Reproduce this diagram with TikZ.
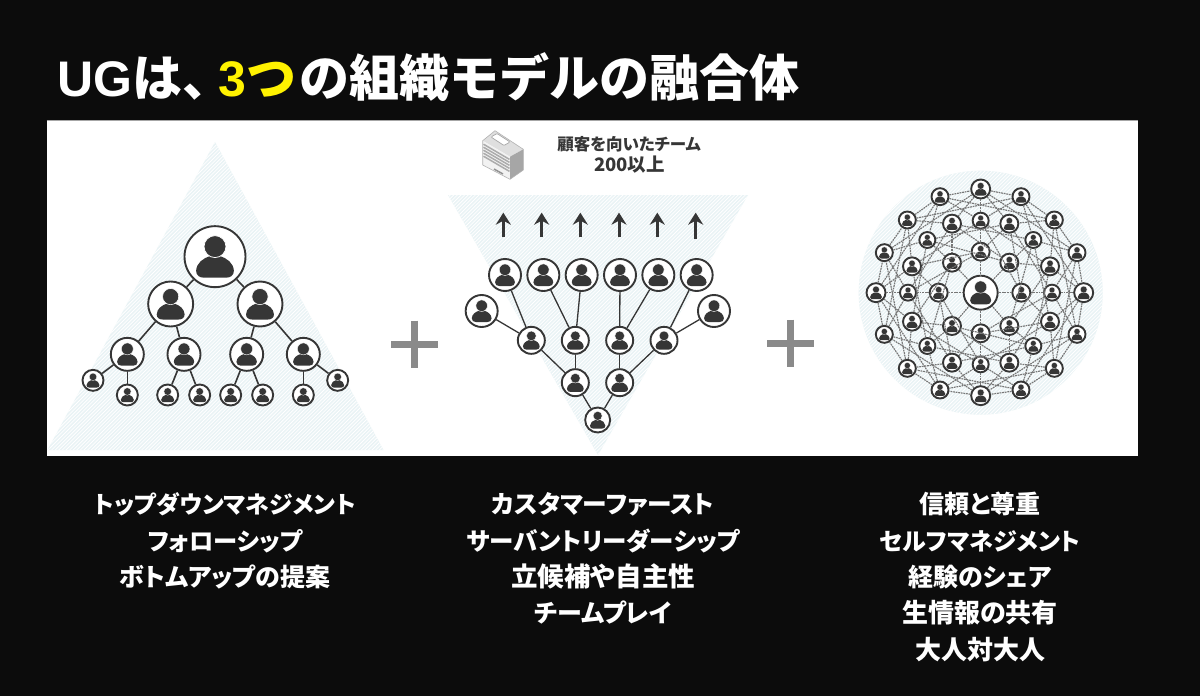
\documentclass[tikz,border=0pt]{standalone}
\usepackage{fontspec}
\setmainfont{Noto Sans CJK JP}
\newfontfamily\paltfont[RawFeature=+palt]{Noto Sans CJK JP}
\newfontfamily\latfont{Liberation Sans}
\usetikzlibrary{arrows.meta}
\definecolor{bgblack}{HTML}{0C0C0C}
\definecolor{ink}{HTML}{363636}
\definecolor{tint}{HTML}{E9F3F5}
\definecolor{plusgrey}{HTML}{8A8A8A}
\definecolor{meshgrey}{HTML}{777777}
\tikzset{
  pnode/.style={circle,draw=ink,fill=white,inner sep=0pt,line width=1.9pt},
  treeline/.style={draw=ink,line width=1.6pt},
  meshline/.style={draw=meshgrey,line width=1.15pt,dash pattern=on 1.8pt off .8pt},
  uparrow/.style={draw=ink,line width=3pt,-{Stealth[length=12pt,width=15pt,inset=4pt]}},
  plusbar/.style={draw=plusgrey,line width=7pt},
  caption/.style={text=white,align=center,font=\paltfont\bfseries\fontsize{25}{36.3}\selectfont},
}
\newcommand\fsz[2]{{\fontsize{#1}{36.3}\selectfont #2}}
\newcommand\pers[4]{%
  \node[pnode,minimum size=2*#4 pt] (#1) at (#2,#3) {};
  \begin{scope}[shift={(#1.center)},x=#4pt,y=-#4pt]
    \fill[ink] (-.16,-.02) .. controls (-.4,.06) and (-.6,.2) .. (-.62,.46)
      .. controls (-.62,.62) and (-.5,.69) .. (-.35,.69) -- (.35,.69)
      .. controls (.5,.69) and (.62,.62) .. (.62,.46)
      .. controls (.6,.2) and (.4,.06) .. (.16,-.02) -- cycle;
    \draw[white,fill=ink,line width=.025*#4 pt] (0,-.33) circle[radius=.36];
  \end{scope}}
\begin{document}
\begin{tikzpicture}[x=1pt,y=-1pt]
\useasboundingbox (0,0) rectangle (1200,696);
\fill[bgblack] (0,0) rectangle (1200,696);
\fill[white] (46.5,120) rectangle (1138,455.5);
\draw[gray!70,line width=.8pt] (46.5,120.3) -- (1138,120.3);

% title
\node[anchor=west,inner sep=0pt,text=white,font=\bfseries\fontsize{50}{50}\selectfont] (title) at (57,77)
  {{\latfont UG}は{\paltfont 、}\kern11pt\textcolor{yellow}{{\latfont 3}つ}\kern3pt の組織モデルの融合体};

% tinted backgrounds
\begin{scope}
  \clip (215,142) -- (383.5,450) -- (47.5,450) -- cycle;
  \fill[tint] (40,120) rectangle (390,456);
  \foreach \k in {-300,-296.4,...,390} {\draw[white,line width=.8pt] (\k,456) -- (\k+340,116);}
\end{scope}
\begin{scope}
  \clip (448,195) -- (748,195) -- (598,455) -- cycle;
  \fill[tint] (440,190) rectangle (750,456);
  \foreach \k in {110,113.6,...,750} {\draw[white,line width=.8pt] (\k,456) -- (\k+340,116);}
\end{scope}
\begin{scope}
  \clip (980.7,292.7) circle[radius=122];
  \fill[tint] (855,170) rectangle (1105,420);
  \foreach \k in {520,523.6,...,1105} {\draw[white,line width=.8pt] (\k,456) -- (\k+340,116);}
\end{scope}

% left: hierarchy
\begin{scope}[shift={(40,120)},x=.33333pt,y=-.33333pt]
  \pers{a}{525}{410}{30.5}
  \pers{b1}{392}{552}{22.5}
  \pers{b2}{660}{552}{22.5}
  \pers{c1}{262}{703}{16.5}
  \pers{c2}{432}{703}{16.5}
  \pers{c3}{620}{703}{16.5}
  \pers{c4}{790}{703}{16.5}
  \pers{d1}{159}{781}{10.5}
  \pers{d2}{262}{825}{10.5}
  \pers{d3}{383}{825}{10.5}
  \pers{d4}{479}{825}{10.5}
  \pers{d5}{572}{825}{10.5}
  \pers{d6}{668}{825}{10.5}
  \pers{d7}{790}{825}{10.5}
  \pers{d8}{893}{781}{10.5}
\end{scope}
\foreach \s/\t in {a/b1,a/b2,b1/c1,b1/c2,b2/c3,b2/c4,c1/d1,c1/d2,c2/d3,c2/d4,c3/d5,c3/d6,c4/d7,c4/d8}
  {\draw[treeline] (\s) -- (\t);}

% plus signs
\coordinate (p1a) at (391,344); \coordinate (p1b) at (438,344);
\coordinate (p1c) at (414.5,320.5); \coordinate (p1d) at (414.5,367.5);
\draw[plusbar] (p1a) -- (p1b); \draw[plusbar] (p1c) -- (p1d);
\coordinate (p2a) at (767,343); \coordinate (p2b) at (814,343);
\coordinate (p2c) at (790.5,319.5); \coordinate (p2d) at (790.5,366.5);
\draw[plusbar] (p2a) -- (p2b); \draw[plusbar] (p2c) -- (p2d);

% building
\begin{scope}
  \fill[gray!25] (482.7,140.7) -- (495,130.7) -- (523.3,149.3) -- (510,156.7) -- cycle;
  \fill[white,draw=gray!70,line width=.7pt,rounded corners=1pt] (491,137) -- (497,133.5) -- (510,142) -- (504,145.5) -- cycle;
  \fill[gray!10] (482.7,140.7) -- (510,156.7) -- (510,179.3) -- (482.7,165) -- cycle;
  \fill[gray!70] (510,156.7) -- (523.3,149.3) -- (523.3,170) -- (510,179.3) -- cycle;
  \foreach \d in {3,6,...,15} {\draw[gray!65,line width=1.5pt] (483.5,141.2+\d) -- (509.5,156.4+\d);}
  \draw[gray!85,line width=1.5pt] (494,169) -- (503,174);
  \draw[gray!60,line width=.6pt] (482.7,140.7) -- (495,130.7) -- (523.3,149.3) -- (523.3,170) -- (510,179.3) -- (482.7,165) -- cycle;
\end{scope}
\node[inner sep=0pt,text=ink,font=\paltfont\bfseries\fontsize{16.5}{20}\selectfont] (team1) at (629,144) {顧客を向いたチーム};
\node[inner sep=0pt,text=ink,font=\paltfont\bfseries\fontsize{18.5}{20}\selectfont] (team2) at (629.5,164.5) {200以上};

% middle: inverted tree
\begin{scope}[shift={(440,120)},x=.33333pt,y=-.33333pt]
  \foreach \i/\x/\y in {1/190/352,2/305/352,3/421/352,4/537/352,5/652/352,6/767/358}
    {\coordinate (u\i) at (\x,\y); \coordinate (v\i) at (\x,278);
     \draw[uparrow] (u\i) -- (v\i);}
  \pers{t1}{195}{465}{16}
  \pers{t2}{310}{465}{16}
  \pers{t3}{425}{465}{16}
  \pers{t4}{540}{465}{16}
  \pers{t5}{655}{465}{16}
  \pers{t6}{770}{465}{16}
  \pers{wl}{125}{573}{16}
  \pers{wr}{822}{573}{16}
  \pers{r1}{274}{661}{13.5}
  \pers{r2}{406}{661}{13.5}
  \pers{r3}{539}{661}{13.5}
  \pers{r4}{672}{661}{13.5}
  \pers{q1}{406}{788}{13.5}
  \pers{q2}{539}{788}{13.5}
  \pers{z}{473}{900}{12.5}
\end{scope}
\foreach \s/\t in {t1/r1,t2/r2,t3/r2,t4/r3,t5/r3,t6/r4,wl/r1,wr/r4,r1/q1,r2/q1,r3/q2,r4/q2,q1/z,q2/z}
  {\draw[treeline,line width=1.3pt] (\s) -- (\t);}

% right: network
\begin{scope}[shift={(850,170)},x=.33333pt,y=-.33333pt]
  \foreach \n/\x/\y/\r in {
    o0/392/57/9.5,o1/513/80/8.5,o2/613/150/8.5,o3/681/248/8.5,o4/701/368/9.5,o5/681/493/8.5,o6/613/595/8.5,o7/513/660/8.5,
    o8/392/677/9.5,o9/270/660/8.5,o10/172/595/8.5,o11/103/493/8.5,o12/78/368/9.5,o13/103/248/8.5,o14/172/150/8.5,o15/270/80/8.5,
    m0/392/152/8,m1/478/161/9,m2/550/210/8,m3/600/289/9,m4/606/368/8,m5/600/455/9,m6/550/528/8,m7/478/578/9,
    m8/392/583/8,m9/306/578/9,m10/232/528/8,m11/186/455/9,m12/174/368/8,m13/186/289/9,m14/232/210/8,m15/306/161/9,
    n0/392/245/9,n1/478/278/9,n2/514/368/9,n3/478/468/9,n4/392/490/9,n5/306/468/9,n6/266/368/9,n7/306/278/9,
    c/392/368/17}
    {\pers{\n}{\x}{\y}{\r}}
\end{scope}
\foreach \i in {0,...,15} {
  \pgfmathtruncatemacro\ia{mod(\i+1,16)}
  \pgfmathtruncatemacro\ib{mod(\i+15,16)}
  \pgfmathtruncatemacro\id{mod(\i+3,16)}
  \pgfmathtruncatemacro\na{mod(floor(\i/2),8)}
  \pgfmathtruncatemacro\nc{mod(floor(\i/2)+2,8)}
  \draw[meshline] (o\i) -- (o\ia);
  \draw[meshline] (o\i) -- (m\ia);
  \draw[meshline] (o\i) -- (m\ib);
  \draw[meshline] (o\i) -- (o\id);
  \draw[meshline] (m\i) -- (n\na);
  \draw[meshline] (m\i) -- (m\id);
  \draw[meshline] (m\i) -- (n\nc);
}
\foreach \i in {0,4,8,12} {\draw[meshline] (o\i) -- (m\i);}
\foreach \i in {0,...,7} {\draw[meshline] (n\i) -- (c);}

% captions
\node[caption] (cap1) at (225,541) {\fsz{23.8}{トップダウンマネジメント}\\\fsz{24.3}{フォローシップ}\\ボトムアップの提案};
\node[caption] (cap2) at (603,558.5) {\fsz{24.7}{カスタマーファースト}\\\fsz{24.5}{サーバントリーダーシップ}\\\fsz{26.5}{立候補や自主性}\\チームプレイ};
\node[caption] (cap3) at (980,577) {信頼と尊重\\\fsz{24}{セルフマネジメント}\\経験のシェア\\\fsz{26}{生情報の共有}\\\fsz{26}{大人対大人}};
\end{tikzpicture}
\end{document}
